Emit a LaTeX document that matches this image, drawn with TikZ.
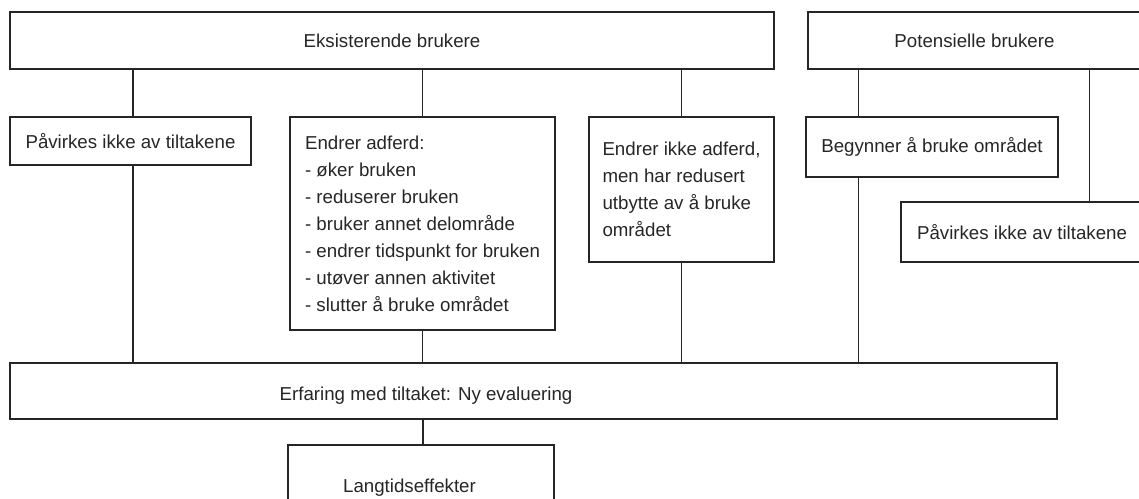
\documentclass[tikz,border=0pt]{standalone}
\usepackage{fontspec}
\setmainfont{Liberation Sans}
\usetikzlibrary{positioning, calc}

\tikzset{
    box/.style={rectangle, draw=black!85, line width=1.3pt, inner sep=0pt, text=black!85, font=\fontsize{18.7}{27}\selectfont},
    plain/.style={inner sep=0pt, text=black!85, font=\fontsize{18.7}{27}\selectfont},
    link/.style={draw=black!85, line width=1.2pt},
}

\begin{document}
\begin{tikzpicture}[x=1pt, y=-1pt]
    \useasboundingbox (0, 0) rectangle (1139, 498);
    \clip (0, 0) rectangle (1139, 498);

    % top row
    \node[box, minimum width=764, minimum height=57] (eksist) at (392, 40.5) {Eksisterende brukere};
    \node[box, minimum width=333, minimum height=57] (potens) at (974.5, 40.5) {Potensielle brukere};

    % second row
    \node[box, minimum width=241, minimum height=48] (ikke_one) at (130.5, 141) {Påvirkes ikke av tiltakene};
    \node[box, align=left, minimum width=265, minimum height=213] (adferd) at (422.5, 223.5) {Endrer adferd:\\
        - øker bruken\\
        - reduserer bruken\\
        - bruker annet delområde\\
        - endrer tidspunkt for bruken\\
        - utøver annen aktivitet\\
        - slutter å bruke området};
    \node[box, align=left, minimum width=185, minimum height=145] (utbytte) at (681.5, 189.5) {Endrer ikke adferd,\\
        men har redusert\\
        utbytte av å bruke\\
        området};
    \node[box, minimum width=252, minimum height=60] (begynner) at (932, 147) {Begynner å bruke området};
    \node[box, minimum width=242, minimum height=60] (ikke_two) at (1022, 232) {Påvirkes ikke av tiltakene};

    % evaluation and long term
    \node[box, minimum width=1047, minimum height=56] (erfaring) at (533.5, 391) {};
    \node[plain, anchor=base] (erfaring_txt) at (426, 400) {Erfaring med tiltaket: Ny evaluering};
    \node[box, minimum width=266, minimum height=90] (langtid) at (421, 490) {};
    \node[plain, anchor=base] (langtid_txt) at (409.5, 492) {Langtidseffekter};

    % links from the user groups
    \draw[link] ([xshift=2.5pt]ikke_one.north) -- ([xshift=2.5pt]ikke_one.north |- eksist.south);
    \draw[link] (adferd.north) -- (adferd.north |- eksist.south);
    \draw[link] (utbytte.north) -- (utbytte.north |- eksist.south);
    \draw[link] ([xshift=53pt]begynner.north west) -- ([xshift=53pt]begynner.north west |- potens.south);
    \draw[link] ([xshift=282pt]potens.south west) -- ([xshift=282pt]potens.south west |- ikke_two.north);

    % links down to the evaluation
    \draw[link] ([xshift=2.5pt]ikke_one.south) -- ([xshift=2.5pt]ikke_one.south |- erfaring.north);
    \draw[link] (adferd.south) -- (adferd.south |- erfaring.north);
    \draw[link] (utbytte.south) -- (utbytte.south |- erfaring.north);
    \draw[link] ([xshift=53pt]begynner.south west) -- ([xshift=53pt]begynner.south west |- erfaring.north);
    \draw[link] ([xshift=2pt]langtid.north) -- ([xshift=2pt]langtid.north |- erfaring.south);
\end{tikzpicture}
\end{document}
